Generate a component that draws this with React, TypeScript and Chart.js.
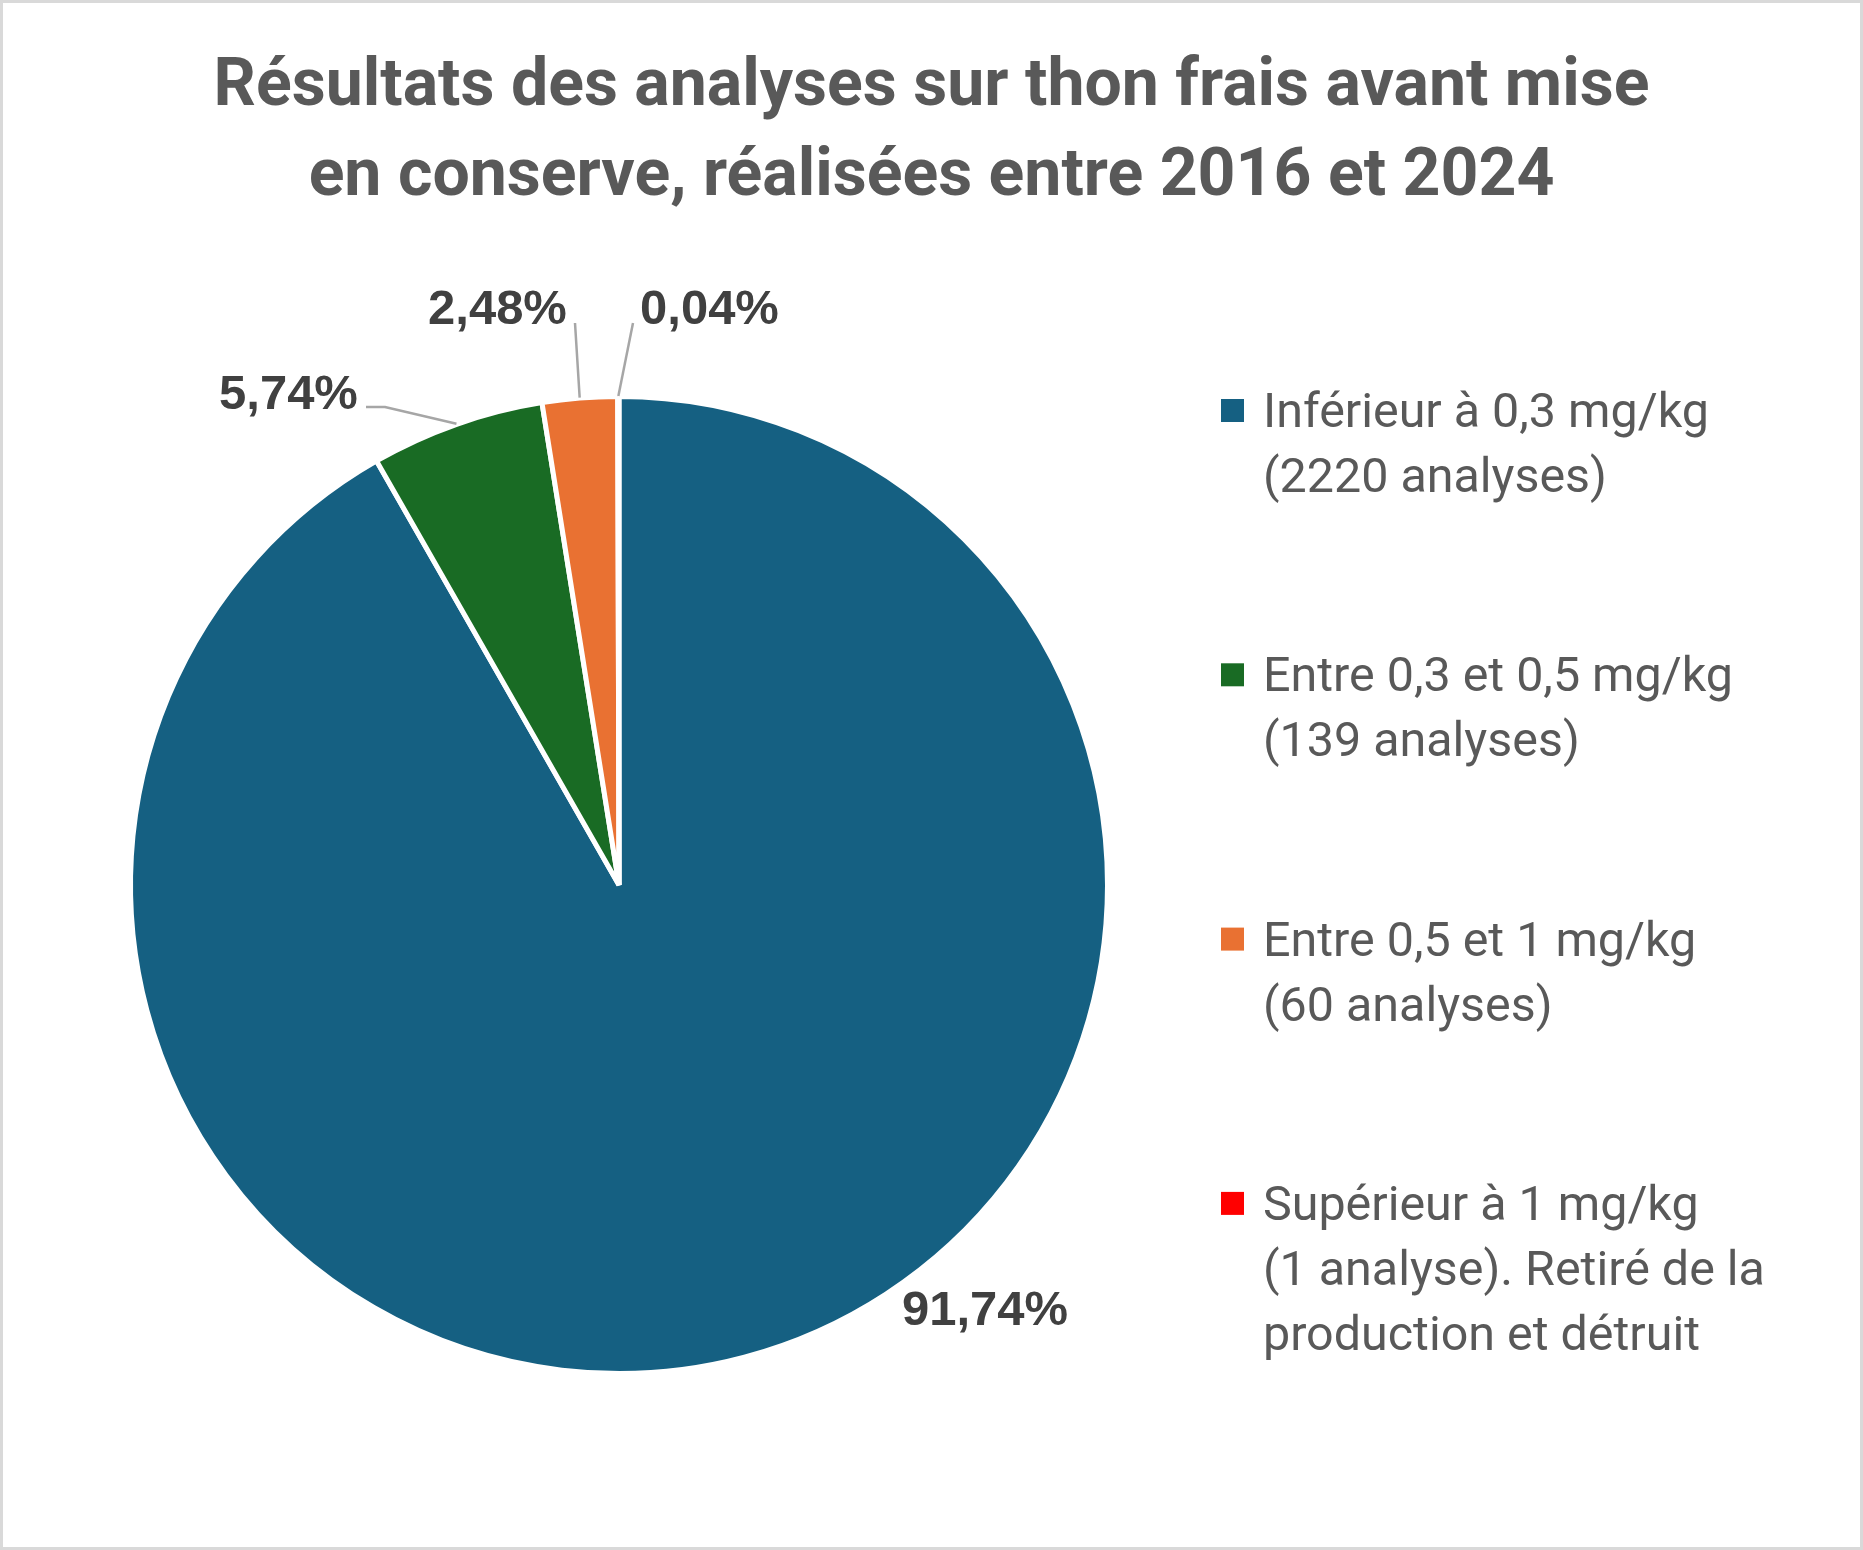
import React, { useEffect, useRef } from "react";
import { Chart, registerables } from "chart.js";

Chart.register(...registerables);

// ---------- data ----------
const TITLE_LINES = [
  "Résultats des analyses sur thon frais avant mise",
  "en conserve, réalisées entre 2016 et 2024",
];
const CATEGORIES = [
  "Inférieur à 0,3 mg/kg",
  "Entre 0,3 et 0,5 mg/kg",
  "Entre 0,5 et 1 mg/kg",
  "Supérieur à 1 mg/kg",
];
const LEGEND_LINES = [
  ["Inférieur à 0,3 mg/kg", "(2220 analyses)"],
  ["Entre 0,3 et 0,5 mg/kg", "(139 analyses)"],
  ["Entre 0,5 et 1 mg/kg", "(60 analyses)"],
  ["Supérieur à 1 mg/kg", "(1 analyse). Retiré de la", "production et détruit"],
];
const ANALYSES = [2220, 139, 60, 1];
const COLORS = ["#156082", "#196B24", "#E97132", "#FF0000"];

// ---------- layout ----------
const W = 1863;
const H = 1550;
const CX = 619;
const CY = 885;
const R = 488.5;
const BW = 5;
const SIDE = 2 * R + BW;

const LABEL_PLACEMENT = [
  { dx: 366, dy: 440, leader: [] as number[][] },
  { dx: -330.5, dy: -476, leader: [[-253, -478], [-234, -478]] },
  { dx: -121.5, dy: -561, leader: [[-44, -562]] },
  { dx: 90.5, dy: -561, leader: [[14, -562]] },
];

function fitSize(ctx: CanvasRenderingContext2D, text: string, weight: string, family: string, target: number) {
  ctx.font = `${weight} 100px ${family}`;
  const w = ctx.measureText(text).width;
  return (100 * target) / w;
}

const decorPlugin = {
  id: "decor",
  afterDraw(chart: any) {
    const ctx: CanvasRenderingContext2D = chart.ctx;
    ctx.save();

    // frame
    ctx.strokeStyle = "#D9D9D9";
    ctx.lineWidth = 3;
    ctx.strokeRect(1.5, 1.5, W - 3, H - 3);

    // title
    const tFam = "Roboto, 'Liberation Sans', sans-serif";
    const tSize = fitSize(ctx, TITLE_LINES[0], "bold", tFam, 1436);
    ctx.font = `bold ${tSize}px ${tFam}`;
    ctx.fillStyle = "#595959";
    ctx.textAlign = "center";
    ctx.textBaseline = "alphabetic";
    TITLE_LINES.forEach((line, i) => ctx.fillText(line, W / 2, 105 + i * 90));

    // data labels + leader lines
    const total = ANALYSES.reduce((a, b) => a + b, 0);
    const meta = chart.getDatasetMeta(0);
    const lFam = "'Liberation Sans', Arial, sans-serif";
    const lSize = fitSize(ctx, "91,74%", "bold", lFam, 166);
    meta.data.forEach((arc: any, i: number) => {
      const p = arc.getProps(["x", "y", "startAngle", "endAngle", "outerRadius"], true);
      const place = LABEL_PLACEMENT[i];
      const txt = ((ANALYSES[i] / total) * 100).toFixed(2).replace(".", ",") + "%";
      ctx.font = `bold ${lSize}px ${lFam}`;
      ctx.fillStyle = "#404040";
      ctx.textAlign = "center";
      ctx.fillText(txt, p.x + place.dx, p.y + place.dy);
      if (place.leader.length) {
        const mid = (p.startAngle + p.endAngle) / 2;
        const rr = p.outerRadius + 0.5;
        ctx.beginPath();
        ctx.strokeStyle = "#A6A6A6";
        ctx.lineWidth = 2.5;
        place.leader.forEach((pt, k) => {
          if (k === 0) ctx.moveTo(p.x + pt[0], p.y + pt[1]);
          else ctx.lineTo(p.x + pt[0], p.y + pt[1]);
        });
        ctx.lineTo(p.x + rr * Math.cos(mid), p.y + rr * Math.sin(mid));
        ctx.stroke();
      }
    });

    // legend
    const gFam = "Roboto, 'Liberation Sans', sans-serif";
    const gSize = fitSize(ctx, LEGEND_LINES[0][0], "normal", gFam, 446);
    ctx.font = `normal ${gSize}px ${gFam}`;
    ctx.textAlign = "left";
    LEGEND_LINES.forEach((lines, i) => {
      const base = 427 + i * 264.3;
      ctx.fillStyle = COLORS[i];
      ctx.fillRect(1221, base - 28, 23, 23);
      ctx.fillStyle = "#595959";
      lines.forEach((ln, k) => ctx.fillText(ln, 1263, base + k * 65));
    });

    ctx.restore();
  },
};

export default function App() {
  const ref = useRef<HTMLCanvasElement | null>(null);
  useEffect(() => {
    if (!ref.current) return;
    const chart = new Chart(ref.current, {
      type: "pie",
      data: {
        labels: CATEGORIES,
        datasets: [
          {
            data: ANALYSES,
            backgroundColor: COLORS,
            borderColor: "#FFFFFF",
            borderWidth: BW,
          },
        ],
      },
      options: {
        animation: false,
        responsive: false,
        devicePixelRatio: 1,
        events: [],
        layout: {
          padding: {
            left: CX - SIDE / 2,
            top: CY - SIDE / 2,
            right: W - (CX + SIDE / 2),
            bottom: H - (CY + SIDE / 2),
          },
        },
        plugins: {
          legend: { display: false },
          title: { display: false },
          tooltip: { enabled: false },
        },
      },
      plugins: [decorPlugin],
    });
    return () => chart.destroy();
  }, []);
  return (
    <div style={{ position: "absolute", left: 0, top: 0, width: W, height: H, background: "#FFFFFF" }}>
      <canvas ref={ref} width={W} height={H} style={{ display: "block" }} />
    </div>
  );
}
